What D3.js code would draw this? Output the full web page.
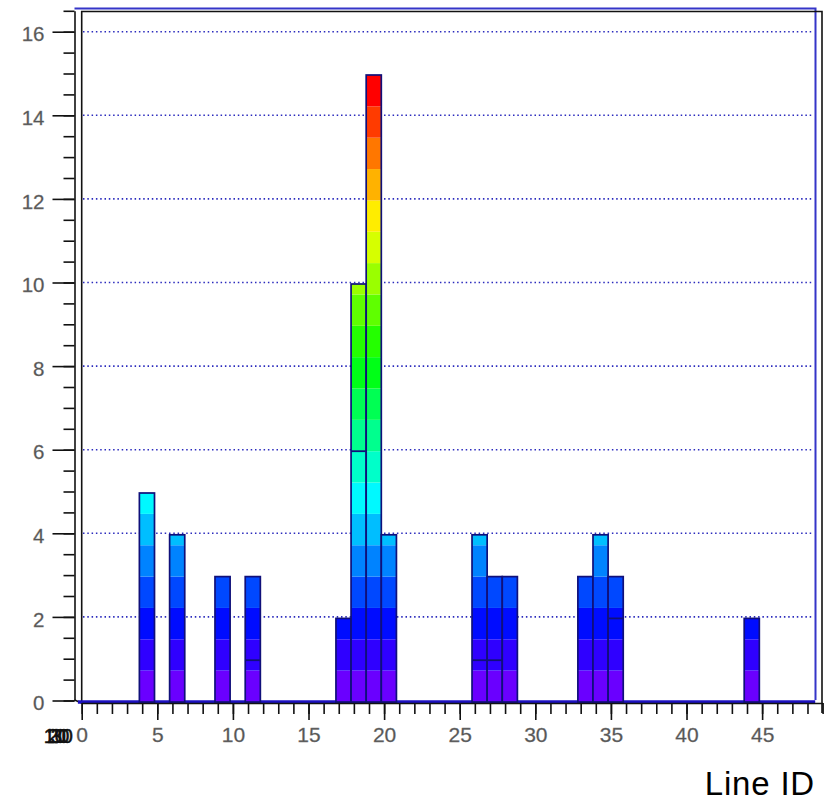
<!DOCTYPE html>
<html>
<head>
<meta charset="utf-8">
<script src="https://cdn.jsdelivr.net/npm/d3@7"></script>
<style>
  html, body { margin: 0; padding: 0; background: #fff; }
  svg { display: block; font-family: "Liberation Sans", Arial, Helvetica, sans-serif; }
</style>
</head>
<body>
<svg id="chart" width="827" height="802"></svg>
<script>
// Entries per Line ID (lego view, bins of width 1)
const lineIds  = [4, 6, 9, 11, 17, 18, 19, 20, 26, 27, 28, 33, 34, 35, 44];
const counts   = [5, 4, 3,  3,  2, 10, 15,  4,  4,  3,  3,  3,  4,  3,  2];
// Heights of the front cells that show as an edge inside a bar
const frontIds    = [11, 18, 26, 27, 35];
const frontCounts = [1,  6,  1,  1,  2];
// Axis ticks
const yMajorTicks = [0, 2, 4, 6, 8, 10, 12, 14, 16];
const xMajorTicks = [0, 5, 10, 15, 20, 25, 30, 35, 40, 45];
const depthLabels = ["10", "20", "30"];

const nLevels = 20;
const zMax = d3.max(counts);
const levelStep = zMax / nLevels;

const svg = d3.select("#chart");

const x = d3.scaleLinear().domain([0, 49]).range([81.7, 822.6]);
const y = d3.scaleLinear().domain([0, zMax * 1.1]).range([700.5, 10.8]);
const hue = d3.scaleLinear().domain([0, nLevels - 1]).range([265, 0]);
const levelColor = k => d3.hsl(hue(k), 1, 0.5).formatHex();

// Dotted grid
const grid = svg.append("g");
grid.selectAll("line").data(yMajorTicks.filter(v => v > 0)).join("line")
  .attr("x1", 83).attr("x2", 814)
  .attr("y1", d => y(d)).attr("y2", d => y(d))
  .attr("stroke", "#2b2bbd").attr("stroke-width", 1.6)
  .attr("stroke-dasharray", "1.5 2.8");

// Back frame (blue) and front frame (black)
svg.append("path")
  .attr("d", `M74.5,8.5 H815.5 V700`)
  .attr("fill", "none").attr("stroke", "#3535c8").attr("stroke-width", 2);
svg.append("path")
  .attr("d", `M${x(0)},703 V11.5 H822 V713`)
  .attr("fill", "none").attr("stroke", "#111").attr("stroke-width", 1.6);
svg.append("path")
  .attr("d", `M74.5,700 L${x(0)},703`)
  .attr("fill", "none").attr("stroke", "#111").attr("stroke-width", 1.6);

// Lego bars, shifted slightly by the 3D projection
const bars = svg.append("g").attr("transform", "translate(-2.8,1.5)");

// Flat base of empty cells
bars.append("line")
  .attr("x1", x(0) - 1).attr("x2", 818)
  .attr("y1", y(0)).attr("y2", y(0))
  .attr("stroke", "#1c10c0").attr("stroke-width", 3.5);

const barData = lineIds.map((id, i) => ({ id, n: counts[i] }));
barData.forEach(b => {
  const g = bars.append("g");
  const bands = d3.range(nLevels)
    .map(k => ({ k, lo: k * levelStep, hi: Math.min((k + 1) * levelStep, b.n) }))
    .filter(s => s.lo < b.n);
  g.selectAll("rect.band").data(bands).join("rect")
    .attr("class", "band")
    .attr("x", x(b.id)).attr("width", x(b.id + 1) - x(b.id))
    .attr("y", s => y(s.hi)).attr("height", s => y(s.lo) - y(s.hi))
    .attr("fill", s => levelColor(s.k));
  g.append("rect")
    .attr("x", x(b.id)).attr("width", x(b.id + 1) - x(b.id))
    .attr("y", y(b.n)).attr("height", y(0) - y(b.n))
    .attr("fill", "none").attr("stroke", "#10107a").attr("stroke-width", 1.7);
});

// Edges of front cells
bars.selectAll("line.front").data(frontIds.map((id, i) => ({ id, n: frontCounts[i] }))).join("line")
  .attr("class", "front")
  .attr("x1", d => x(d.id)).attr("x2", d => x(d.id + 1))
  .attr("y1", d => y(d.n)).attr("y2", d => y(d.n))
  .attr("stroke", "#10107a").attr("stroke-width", 1.8);

// Y axis
const yAxisG = svg.append("g").attr("transform", "translate(74.5,0)");
yAxisG.call(d3.axisLeft(y).tickValues(d3.range(0, 16.51, 0.5)).tickSize(11).tickSizeOuter(0).tickFormat(""));
yAxisG.append("g").call(d3.axisLeft(y).tickValues(yMajorTicks).tickSize(22).tickPadding(8).tickFormat(d3.format("d")))
  .call(g => g.select(".domain").remove());
yAxisG.selectAll("path, line").attr("stroke", "#111").attr("stroke-width", 1.6);
yAxisG.selectAll("text")
  .attr("font-size", 20.5).attr("fill", "#555").attr("dy", "0.45em")
  .attr("stroke", "#777").attr("stroke-width", 0.3)
  .attr("font-family", "'Liberation Sans', Arial, sans-serif");

// X axis
const xAxisG = svg.append("g").attr("transform", "translate(0,703)");
xAxisG.call(d3.axisBottom(x).tickValues(d3.range(0, 50, 1)).tickSize(11).tickSizeOuter(0).tickFormat(""));
xAxisG.append("g").call(d3.axisBottom(x).tickValues(xMajorTicks).tickSize(17).tickPadding(7).tickFormat(d3.format("d")))
  .call(g => g.select(".domain").remove());
xAxisG.selectAll("path, line").attr("stroke", "#111").attr("stroke-width", 1.6);
xAxisG.selectAll("text")
  .attr("font-size", 21).attr("fill", "#555")
  .attr("stroke", "#777").attr("stroke-width", 0.3)
  .attr("font-family", "'Liberation Sans', Arial, sans-serif");

// Depth-axis labels collapsed onto one point
svg.append("g").selectAll("text").data(depthLabels).join("text")
  .attr("x", (d, i) => 66 + i * 3.5).attr("y", 743)
  .attr("text-anchor", "end")
  .attr("font-size", 20).attr("fill", "#111")
  .attr("stroke", "#111").attr("stroke-width", 0.5)
  .text(d => d);

// Axis title
svg.append("text")
  .attr("x", 815).attr("y", 795)
  .attr("text-anchor", "end")
  .attr("font-size", 33).attr("letter-spacing", 0.8).attr("fill", "#000")
  .text("Line ID");
</script>
</body>
</html>
